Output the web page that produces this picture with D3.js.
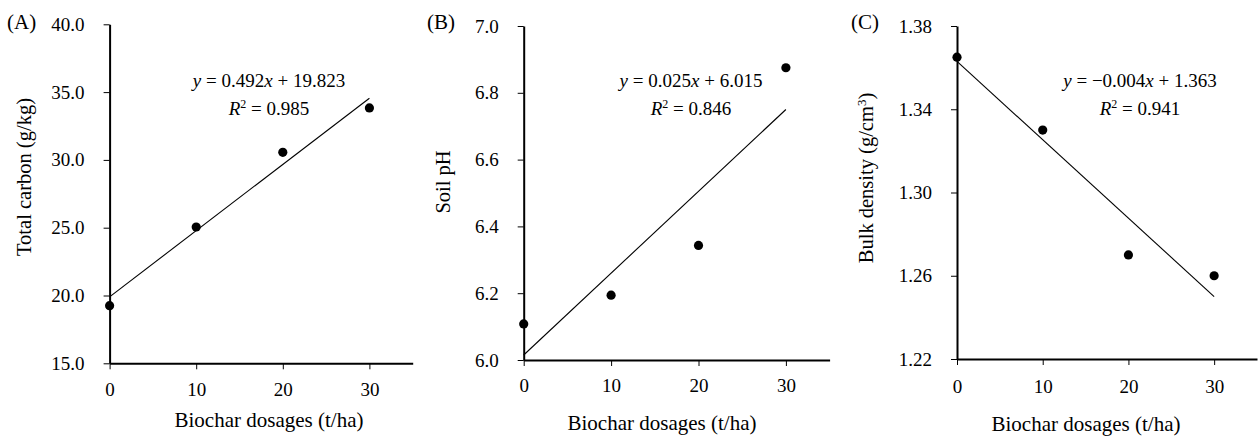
<!DOCTYPE html>
<html>
<head>
<meta charset="utf-8">
<script src="https://cdn.jsdelivr.net/npm/d3@7"></script>
<style>
body{margin:0;background:#fff;}
svg{display:block;font-family:"Liberation Serif",serif;}
.axis path{stroke:#000;stroke-width:2;}
.axis line{stroke:#000;stroke-width:1;}
.axis text{font-family:"Liberation Serif",serif;font-size:19px;fill:#000;}
</style>
</head>
<body>
<svg id="chart" width="1258" height="443"></svg>
<script>
// data
var dosage=[0,10,20,30];
var carbon=[19.25,25.05,30.56,33.83];
var soilPH=[6.108,6.194,6.343,6.875];
var density=[1.365,1.330,1.270,1.260];
// fitted lines, value at x=0 and x=30
var carbonFit=[19.9,34.55];
var phFit=[6.015,6.75];
var densityFit=[1.363,1.25];
var xTicks=[0,10,20,30];
var carbonTicks=[15,20,25,30,35,40];
var phTicks=[6.0,6.2,6.4,6.6,6.8,7.0];
var densityTicks=[1.22,1.26,1.30,1.34,1.38];
var eqText=[['y',' = 0.492','x',' + 19.823'],['y',' = 0.025','x',' + 6.015'],['y',' = \u22120.004','x',' + 1.363']];
var r2Text=['0.985','0.846','0.941'];
var panelNames=['(A)','(B)','(C)'];

var svg=d3.select('#chart');

function drawPanel(i,o){
  var g=svg.append('g');
  var x=d3.scaleLinear().domain([0,35]).range([o.x0,o.x1]);
  var y=d3.scaleLinear().domain(o.ydom).range([o.y0,o.y1]);

  g.append('g').attr('class','axis').attr('transform','translate(0,'+o.y0+')')
  .call(d3.axisBottom(x).tickValues(xTicks).tickSize(6).tickSizeOuter(0).tickPadding(o.xpad))
  g.append('g').attr('class','axis').attr('transform','translate('+o.x0+',0)')
  .call(d3.axisLeft(y).tickValues(o.ticks).tickFormat(d3.format(o.fmt)).tickSize(6).tickSizeOuter(0).tickPadding(19))

  //fit line
  g.append('line')
  .attr('x1',x(0)).attr('y1',y(o.fit[0]))
  .attr('x2',x(30)).attr('y2',y(o.fit[1]))
  .attr('stroke','#000').attr('stroke-width',1.1)

  g.selectAll('circle.pt').data(o.vals).enter().append('circle')
  .attr('class','pt')
  .attr('cx',function(d,k){return x(dosage[k])})
  .attr('cy',function(d){return y(d)})
  .attr('r',4.6)
  .attr('fill','#000')

  //equation
  var eq=g.append('text').attr('x',o.eqx).attr('y',87).attr('text-anchor','middle').style('font-size','19px')
  eqText[i].forEach(function(s,k){
    eq.append('tspan').text(s).style('font-style',(k%2==0)?'italic':'normal')
  })
  var r2=g.append('text').attr('x',o.eqx).attr('y',115).attr('text-anchor','middle').style('font-size','19px')
  r2.append('tspan').text('R').style('font-style','italic')
  r2.append('tspan').text('2').attr('dy','-7').style('font-size','12px')
  r2.append('tspan').text(' = '+r2Text[i]).attr('dy','7')

  g.append('text').attr('x',o.px).attr('y',29).text(panelNames[i]).style('font-size','21px')

  g.append('text').attr('x',o.tx).attr('y',o.ty).attr('text-anchor','middle')
  .style('font-size','21px').text('Biochar dosages (t/ha)')

  var yt=g.append('text').attr('transform','translate('+o.lx+','+o.ly+') rotate(-90)')
  .attr('text-anchor','middle').style('font-size','20.5px')
  yt.append('tspan').text(o.label)
  if(o.sup){
    yt.append('tspan').text(o.sup).attr('dy','-7').style('font-size','13px')
    yt.append('tspan').text(')').attr('dy','7')
  }
}

drawPanel(0,{x0:109.6,x1:412.7,y0:363.3,y1:24.3,ydom:[15,40],ticks:carbonTicks,fmt:'.1f',vals:carbon,fit:carbonFit,xpad:13,
  eqx:269,px:7,tx:269,ty:427,lx:31,ly:177,label:'Total carbon (g/kg)'});
drawPanel(1,{x0:523.7,x1:829.6,y0:360,y1:26,ydom:[6,7],ticks:phTicks,fmt:'.1f',vals:soilPH,fit:phFit,xpad:13,
  eqx:691,px:427,tx:662,ty:430,lx:450,ly:182,label:'Soil pH'});
drawPanel(2,{x0:957,x1:1257,y0:359,y1:26,ydom:[1.22,1.38],ticks:densityTicks,fmt:'.2f',vals:density,fit:densityFit,xpad:15,
  eqx:1140,px:851,tx:1086,ty:431,lx:873,ly:178,label:'Bulk density (g/cm',sup:'3'});
</script>
</body>
</html>
